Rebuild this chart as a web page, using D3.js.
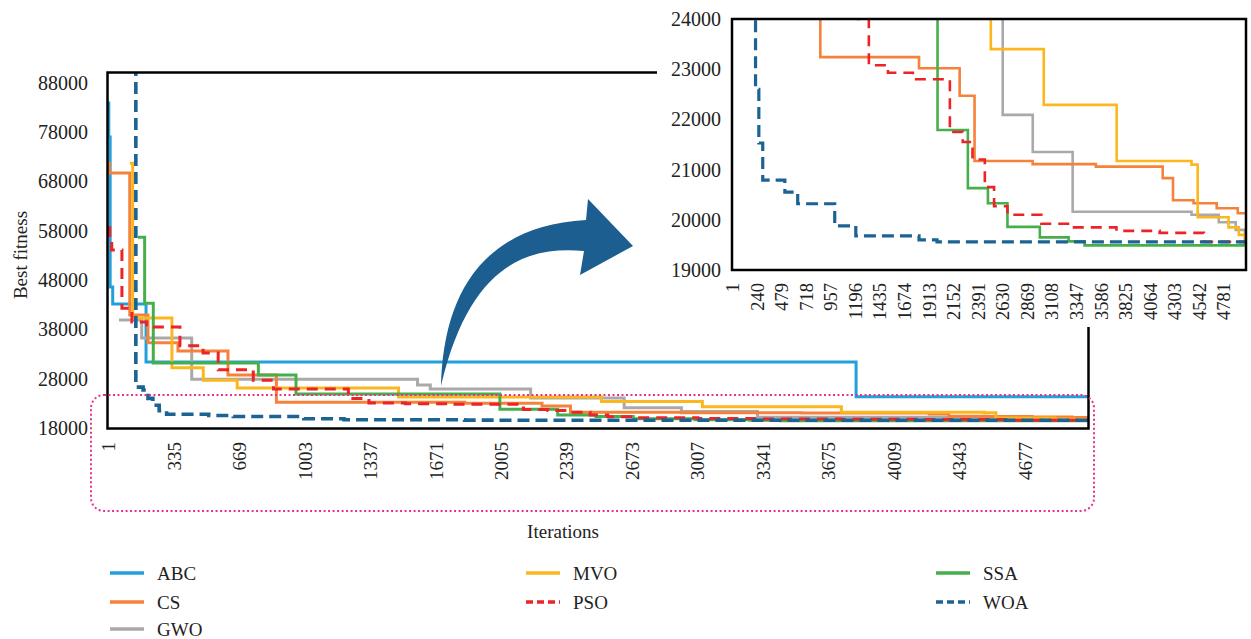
<!DOCTYPE html>
<html>
<head>
<meta charset="utf-8">
<script src="https://cdn.jsdelivr.net/npm/d3@7"></script>
<style>
  body { margin: 0; background: #fff; }
  svg text { font-family: "Liberation Serif", "Times New Roman", serif; fill: #222; }
</style>
</head>
<body>
<div id="chart"></div>
<script>
// convergence curves: [iteration, best fitness], value holds until next point
var ABC = [[1, 83900], [5, 77000], [12, 46600], [25, 43150], [195, 31400], [3817, 24350]];
var CS = [[1, 71700], [8, 69700], [112, 40900], [205, 35300], [358, 33600], [613, 28750],
  [860, 23240], [1820, 23020], [2215, 22470], [2360, 21170], [2925, 21110], [3540, 21060],
  [4190, 20830], [4290, 20390], [4490, 20330], [4715, 20230], [4920, 20130]];
var GWO = [[57, 39900], [173, 36250], [428, 27900], [1580, 26720], [1645, 25900], [2157, 24100],
  [2634, 22090], [2926, 21350], [3314, 20160], [4470, 20100], [4735, 19950], [4900, 19800], [4990, 19600]];
var MVO = [[112, 71700], [127, 40300], [327, 30200], [487, 27700], [660, 26100], [1483, 24300],
  [2518, 23400], [3033, 22290], [3742, 21170], [4470, 21100], [4530, 20050], [4830, 19850],
  [4930, 19700], [4990, 19530]];
var PSO = [[1, 58600], [10, 56700], [20, 54100], [72, 42300], [123, 39500], [198, 38500],
  [368, 34700], [486, 33200], [563, 29800], [742, 27700], [845, 25900], [1227, 24000],
  [1332, 23080], [1518, 22930], [1760, 22800], [2120, 21750], [2245, 21550], [2340, 21200],
  [2460, 20650], [2550, 20270], [2680, 20100], [3010, 19920], [3315, 19850], [3740, 19780],
  [4160, 19740], [4590, 19560]];
var SSA = [[153, 56700], [188, 43300], [232, 31200], [768, 28750], [960, 24900],
  [2000, 21790], [2295, 20630], [2490, 20330], [2680, 19860], [2995, 19650], [3275, 19570], [3430, 19490]];
var WOA = [[1, 130000], [143, 26300], [180, 25700], [205, 24000], [230, 22600], [262, 21530],
  [300, 20790], [515, 20550], [640, 20320], [1000, 19880], [1205, 19680], [1820, 19600], [1995, 19560]];

var names = ["ABC", "CS", "GWO", "MVO", "PSO", "SSA", "WOA"];
var mainXTicks = [1, 335, 669, 1003, 1337, 1671, 2005, 2339, 2673, 3007, 3341, 3675, 4009, 4343, 4677];
var mainYTicks = [18000, 28000, 38000, 48000, 58000, 68000, 78000, 88000];
var insetXTicks = [1, 240, 479, 718, 957, 1196, 1435, 1674, 1913, 2152, 2391, 2630, 2869, 3108,
  3347, 3586, 3825, 4064, 4303, 4542, 4781];
var insetYTicks = [19000, 20000, 21000, 22000, 23000, 24000];

var seriesData = { ABC: ABC, CS: CS, GWO: GWO, MVO: MVO, PSO: PSO, SSA: SSA, WOA: WOA };
var styles = {
  ABC: { color: "#22a0db", dash: null },
  CS: { color: "#f5813a", dash: null },
  GWO: { color: "#a9a9a9", dash: null },
  MVO: { color: "#fdb71e", dash: null },
  PSO: { color: "#ec2327", dash: "11,7" },
  SSA: { color: "#45b04b", dash: null },
  WOA: { color: "#1b6393", dash: "12,6" }
};
// drawing order (last on top)
var drawOrder = ["ABC", "GWO", "CS", "MVO", "SSA", "PSO", "WOA"];
var serif = "'Liberation Serif', 'Times New Roman', serif";

var W = 1251, H = 639;
var svg = d3.select("#chart").append("svg").attr("width", W).attr("height", H);

// ---------- main chart ----------
var x = d3.scaleLinear().domain([1, 5000]).range([108, 1088]);
var y = d3.scaleLinear().domain([18000, 90000]).range([428, 73]);

svg.append("clipPath").attr("id", "clipMain").append("rect")
  .attr("x", 108).attr("y", 73).attr("width", 980).attr("height", 355);

function drawLines(g, xs, ys, clipId, width) {
  var line = d3.line()
    .x(function (d) { return xs(d[0]); })
    .y(function (d) { return ys(d[1]); })
    .curve(d3.curveStepAfter);
  var lg = g.append("g").attr("clip-path", "url(#" + clipId + ")");
  drawOrder.forEach(function (n) {
    var pts = seriesData[n].concat([[5000, seriesData[n][seriesData[n].length - 1][1]]]);
    lg.append("path")
      .attr("d", line(pts))
      .attr("fill", "none")
      .attr("stroke", styles[n].color)
      .attr("stroke-width", n == "WOA" ? width + 0.6 : width)
      .attr("stroke-dasharray", styles[n].dash);
  });
}

// tick label styling shared by all axes
function styleTicks(g, size) {
  g.select(".domain").remove();
  g.attr("font-family", serif).attr("font-size", size);
  g.selectAll("text").attr("fill", "#222");
}

drawLines(svg, x, y, "clipMain", 3);

// frame (top and right partly hidden by the inset)
svg.append("path")
  .attr("d", "M657,72.5 L107.5,72.5 L107.5,428.5 L1088.5,428.5 L1088.5,327")
  .attr("fill", "none").attr("stroke", "#000").attr("stroke-width", 2.5);

var yAxis = d3.axisLeft(y).tickValues(mainYTicks).tickSize(0).tickPadding(20).tickFormat(d3.format("d"));
svg.append("g").attr("transform", "translate(108,0)").call(yAxis)
  .call(styleTicks, 20);

var xAxis = d3.axisBottom(x).tickValues(mainXTicks).tickSize(0).tickFormat(d3.format("d"));
svg.append("g").attr("transform", "translate(0,428)").call(xAxis)
  .call(styleTicks, 19)
  .selectAll("text")
  .attr("y", 0).attr("x", -14).attr("dy", "0.35em")
  .attr("transform", "rotate(-90)")
  .style("text-anchor", "end");

// axis titles
svg.append("text").attr("transform", "translate(27,255) rotate(-90)")
  .style("text-anchor", "middle").style("font-size", "19px").text("Best fitness");
svg.append("text").attr("x", 563).attr("y", 538)
  .style("text-anchor", "middle").style("font-size", "19px").text("Iterations");

// dotted frame around zoomed range
svg.append("rect")
  .attr("x", 91).attr("y", 395).attr("width", 1003).attr("height", 116).attr("rx", 13)
  .attr("fill", "none").attr("stroke", "#e8318a").attr("stroke-width", 2)
  .attr("stroke-dasharray", "2,2.5");

// curved arrow
svg.append("path")
  .attr("d", "M441,386 C443,300 478,226 586,220 L588,199 L633,246 L580,275 L584,251 C530,246 470,262 441,386 Z")
  .attr("fill", "#1b5e8f");

// ---------- inset ----------
var xi = d3.scaleLinear().domain([1, 5000]).range([732, 1246]);
var yi = d3.scaleLinear().domain([19000, 24000]).range([270, 19]);

svg.append("clipPath").attr("id", "clipInset").append("rect")
  .attr("x", 732).attr("y", 19).attr("width", 514).attr("height", 251);

svg.append("rect").attr("x", 732).attr("y", 19).attr("width", 514).attr("height", 251).attr("fill", "#fff");
drawLines(svg, xi, yi, "clipInset", 2.6);

svg.append("rect").attr("x", 732).attr("y", 19).attr("width", 514).attr("height", 251)
  .attr("fill", "none").attr("stroke", "#000").attr("stroke-width", 2.5);

var yiAxis = d3.axisLeft(yi).tickValues(insetYTicks).tickSize(0).tickPadding(11).tickFormat(d3.format("d"));
svg.append("g").attr("transform", "translate(732,0)").call(yiAxis)
  .call(styleTicks, 20);

var xiAxis = d3.axisBottom(xi).tickValues(insetXTicks).tickSize(0).tickFormat(d3.format("d"));
svg.append("g").attr("transform", "translate(0,270)").call(xiAxis)
  .call(styleTicks, 18.5)
  .selectAll("text")
  .attr("y", 0).attr("x", -13).attr("dy", "0.35em")
  .attr("transform", "rotate(-90)")
  .style("text-anchor", "end");

// ---------- legend ----------
var legendPos = {
  ABC: [110, 573], CS: [110, 602], GWO: [110, 629],
  MVO: [526, 573], PSO: [526, 602],
  SSA: [936, 573], WOA: [936, 602]
};
var legend = svg.append("g");
names.forEach(function (n) {
  var p = legendPos[n];
  legend.append("line")
    .attr("x1", p[0]).attr("x2", p[0] + 34).attr("y1", p[1]).attr("y2", p[1])
    .attr("stroke", styles[n].color).attr("stroke-width", 3.5)
    .attr("stroke-dasharray", styles[n].dash ? "7,4" : null);
  legend.append("text")
    .attr("x", p[0] + 47).attr("y", p[1]).attr("dy", "0.35em")
    .style("font-size", "19px").text(n);
});
</script>
</body>
</html>
